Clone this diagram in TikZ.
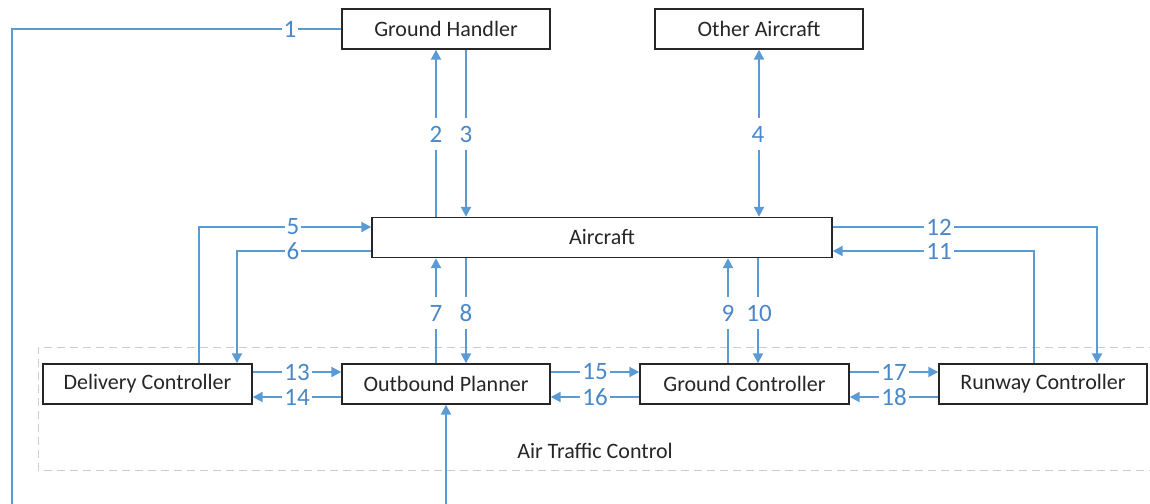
\documentclass[tikz,border=0pt]{standalone}
\usepackage{fontspec}
\setmainfont{Carlito}
\usetikzlibrary{arrows.meta}
\definecolor{flow}{HTML}{5B9BD5}
\definecolor{flowtext}{HTML}{4A88C8}
\definecolor{ink}{HTML}{262626}
\definecolor{zone}{HTML}{CCCCCC}
\begin{document}
\begin{tikzpicture}[x=0.5pt,y=-0.5pt,
  unit/.style={draw=ink, line width=0.7pt, minimum height=20pt, inner sep=0pt,
    font=\fontsize{11}{13}\selectfont, text=ink},
  link/.style={draw=flow, line width=1pt},
  arr/.style={link, -{Triangle[length=5pt,width=5pt]}},
  biarr/.style={link, {Triangle[length=5pt,width=5pt]}-{Triangle[length=5pt,width=5pt]}},
  tag/.style={fill=white, text=flowtext, font=\fontsize{12.5}{14}\selectfont,
    inner xsep=1pt, inner ysep=0pt, minimum height=16pt}]
\useasboundingbox (0,0) rectangle (1150,503);
\clip (0,0) rectangle (1150,503);

% air traffic control zone (open to the right)
\draw[zone, line width=0.5pt, dash pattern=on 4pt off 2.5pt]
  (1170,347) -- (38,347) -- (38,470) -- (1170,470);
\node[font=\fontsize{11}{13}\selectfont, text=ink] (atc) at (595,451) {Air Traffic Control};

% units
\node[unit, minimum width=104pt] (GH) at (446,29) {Ground Handler};
\node[unit, minimum width=104pt] (OA) at (759,29) {Other Aircraft};
\node[unit, minimum width=230pt] (AC) at (602,237.5) {Aircraft};
\node[unit, minimum width=104.5pt] (DC) at (147.5,384) {Delivery Controller};
\node[unit, minimum width=104pt] (OP) at (446,384) {Outbound Planner};
\node[unit, minimum width=104.5pt] (GC) at (744.5,384) {Ground Controller};
\node[unit, minimum width=104pt] (RC) at (1043,384) {Runway Controller};

% message flows
\draw[arr] (GH.west) -| (12,540) -| (OP.south);
\draw[arr] (436,0 |- AC.north) -- (436,0 |- GH.south);
\draw[arr] (466,0 |- GH.south) -- (466,0 |- AC.north);
\draw[biarr] (OA.south) -- (OA.south |- AC.north);
\draw[arr] (199,0 |- DC.north) |- (AC.west |- 0,227);
\draw[arr] (AC.west |- 0,251) -| (237,0 |- DC.north);
\draw[arr] (436,0 |- OP.north) -- (436,0 |- AC.south);
\draw[arr] (466,0 |- AC.south) -- (466,0 |- OP.north);
\draw[arr] (728,0 |- GC.north) -- (728,0 |- AC.south);
\draw[arr] (758,0 |- AC.south) -- (758,0 |- GC.north);
\draw[arr] (AC.east |- 0,227) -| (1097,0 |- RC.north);
\draw[arr] (1034,0 |- RC.north) |- (AC.east |- 0,251);
\draw[arr] (DC.east |- 0,372) -- (OP.west |- 0,372);
\draw[arr] (OP.west |- 0,397) -- (DC.east |- 0,397);
\draw[arr] (OP.east |- 0,372) -- (GC.west |- 0,372);
\draw[arr] (GC.west |- 0,397) -- (OP.east |- 0,397);
\draw[arr] (GC.east |- 0,372) -- (RC.west |- 0,372);
\draw[arr] (RC.west |- 0,397) -- (GC.east |- 0,397);

% flow numbers
\node[tag] (n1) at (290,29) {1};
\node[tag] (n2) at (436,134) {2};
\node[tag] (n3) at (466,134) {3};
\node[tag] (n4) at (758,134) {4};
\node[tag] (n5) at (293,227) {5};
\node[tag] (n6) at (293,251) {6};
\node[tag] (n7) at (436,313) {7};
\node[tag] (n8) at (466,313) {8};
\node[tag] (n9) at (728,313) {9};
\node[tag] (n10) at (759,313) {10};
\node[tag] (n11) at (939,251) {11};
\node[tag] (n12) at (939,227) {12};
\node[tag] (n13) at (297,372) {13};
\node[tag] (n14) at (297,397) {14};
\node[tag] (n15) at (595,372) {15};
\node[tag] (n16) at (595,397) {16};
\node[tag] (n17) at (894,372) {17};
\node[tag] (n18) at (894,397) {18};
\end{tikzpicture}
\end{document}
